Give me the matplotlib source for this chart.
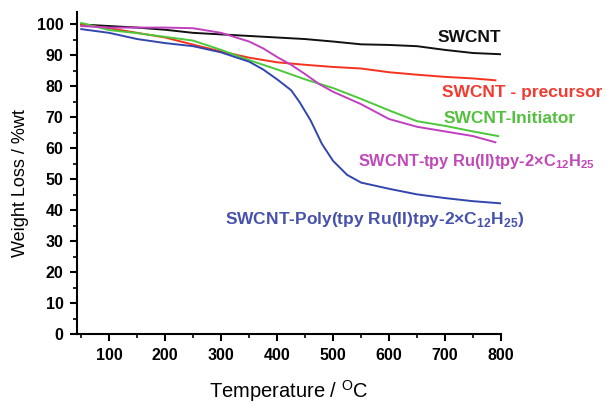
import numpy as np
import matplotlib
matplotlib.use("Agg")
import matplotlib.pyplot as plt
from matplotlib.ticker import MultipleLocator

# values (temperature in C, weight in %)
temp_swcnt = [50, 100, 150, 200, 250, 300, 350, 400, 450, 500, 550, 600, 650, 700, 750, 800]
w_swcnt = [100, 99.5, 99.0, 98.3, 97.3, 96.8, 96.3, 95.8, 95.3, 94.5, 93.6, 93.4, 93.0, 91.8, 90.8, 90.4]

temp_prec = [50, 100, 150, 200, 250, 300, 350, 400, 450, 500, 550, 600, 650, 700, 750, 790]
w_prec = [100, 98.8, 97.3, 95.8, 93.5, 91.3, 89.3, 87.8, 87.0, 86.3, 85.8, 84.6, 83.8, 83.1, 82.6, 82.0]

temp_init = [50, 100, 150, 200, 250, 300, 350, 400, 450, 500, 550, 600, 650, 700, 750, 795]
w_init = [100.5, 98.2, 97.2, 96.0, 94.8, 91.8, 88.5, 85.5, 82.3, 79.5, 76.0, 72.3, 68.8, 67.3, 65.5, 64.0]

temp_tpy = [50, 100, 150, 200, 250, 300, 350, 375, 400, 425, 450, 475, 500, 550, 600, 650, 700, 750, 790]
w_tpy = [99.5, 99.0, 99.0, 99.0, 98.8, 97.3, 94.5, 92.3, 89.5, 87.0, 84.0, 80.8, 78.3, 74.3, 69.5, 67.0, 65.5, 64.0, 62.0]

temp_poly = [50, 100, 150, 200, 250, 300, 350, 375, 400, 425, 440, 460, 480, 500, 525, 550, 600, 650, 700, 750, 800]
w_poly = [98.5, 97.3, 95.3, 94.0, 93.0, 91.0, 88.0, 85.5, 82.3, 78.8, 75.0, 69.0, 61.5, 56.0, 51.5, 49.0, 47.0, 45.2, 44.0, 43.0, 42.3]

x_ticks = [100, 200, 300, 400, 500, 600, 700, 800]
y_ticks = [0, 10, 20, 30, 40, 50, 60, 70, 80, 90, 100]

plt.rcParams['font.family'] = ['Liberation Sans', 'DejaVu Sans']
plt.rcParams['mathtext.fontset'] = 'custom'
plt.rcParams['mathtext.rm'] = 'Liberation Sans'
plt.rcParams['mathtext.bf'] = 'Liberation Sans:bold'


def main():
    fig = plt.figure(figsize=(6.06, 4.03), dpi=100)
    ax = fig.add_axes([0.1276, 0.170, 0.6991, 0.800])

    lw = 1.4
    ax.plot(temp_swcnt, w_swcnt, color='#111111', lw=lw)
    ax.plot(temp_prec, w_prec, color='#f5321e', lw=lw)
    ax.plot(temp_init, w_init, color='#4cc83a', lw=lw)
    ax.plot(temp_tpy, w_tpy, color='#c040c0', lw=lw)
    ax.plot(temp_poly, w_poly, color='#3346ad', lw=lw)

    # curve labels
    fs = 12.5
    ax.text(687, 95.7, 'SWCNT', color='#111111', fontsize=fs, fontweight='bold',
            va='center', ha='left', clip_on=False)
    ax.text(694, 78.1, 'SWCNT - precursor', color='#f03c32', fontsize=fs, fontweight='bold',
            va='center', ha='left', clip_on=False)
    ax.text(697, 69.8, 'SWCNT-Initiator', color='#55c040', fontsize=fs, fontweight='bold',
            va='center', ha='left', clip_on=False)
    ax.text(545, 55.8, r'SWCNT-tpy Ru(II)tpy-2×C$_{\mathbf{12}}$H$_{\mathbf{25}}$', color='#c048b8',
            fontsize=11.8, fontweight='bold', va='center', ha='left', clip_on=False)
    ax.text(306, 37.0, r'SWCNT-Poly(tpy Ru(II)tpy-2×C$_{\mathbf{12}}$H$_{\mathbf{25}}$)', color='#4652ac',
            fontsize=fs, fontweight='bold', va='center', ha='left', clip_on=False)

    ax.set_xlim(43, 800)
    ax.set_ylim(0, 104)
    ax.set_xticks(x_ticks)
    ax.set_yticks(y_ticks)
    ax.xaxis.set_minor_locator(MultipleLocator(50))
    ax.yaxis.set_minor_locator(MultipleLocator(5))

    for s in ['top', 'right']:
        ax.spines[s].set_visible(False)
    for s in ['left', 'bottom']:
        ax.spines[s].set_linewidth(1.5)

    ax.tick_params(which='major', direction='out', length=5, width=1.5, labelsize=11.5, pad=5)
    ax.tick_params(which='minor', direction='out', length=3, width=1.2)
    for lab in ax.get_xticklabels() + ax.get_yticklabels():
        lab.set_fontweight('bold')

    ax.set_xlabel(r'Temperature / $^{\mathrm{O}}$C', fontsize=14.5)
    ax.xaxis.set_label_coords(0.5, -0.135)
    ax.set_ylabel('Weight Loss / %wt', fontsize=13)
    ax.yaxis.set_label_coords(-0.115, 0.47)

    fig.savefig('out.png', dpi=100)


if __name__ == "__main__":
    main()
